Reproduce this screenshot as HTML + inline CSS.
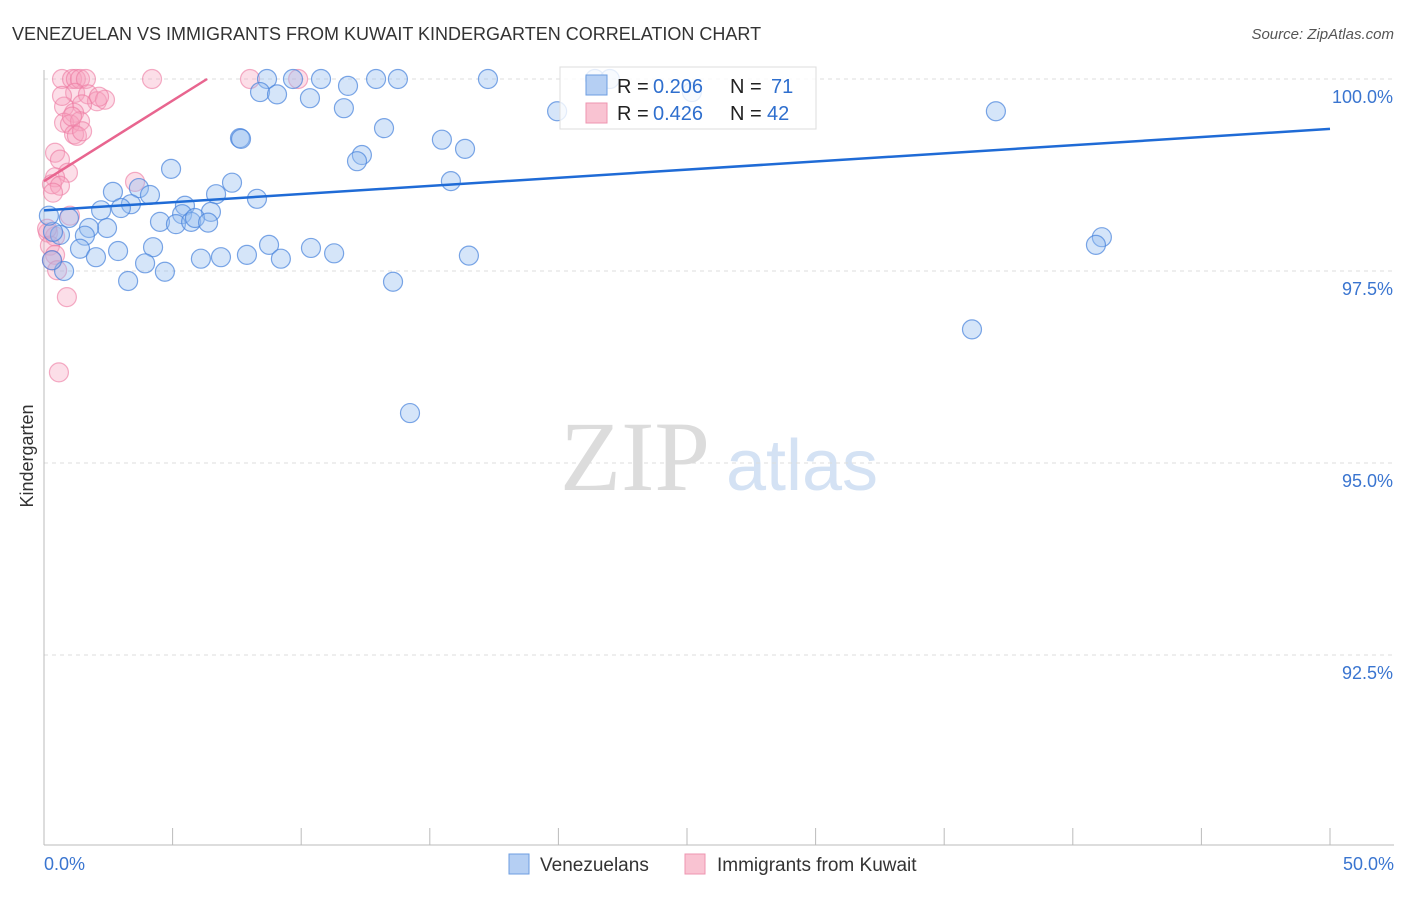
<!DOCTYPE html>
<html><head><meta charset="utf-8"><style>
body{margin:0;background:#fff;font-family:"Liberation Sans",sans-serif;}
</style></head><body>
<svg id="chart" width="1406" height="892" xmlns="http://www.w3.org/2000/svg" font-family="Liberation Sans, sans-serif">
<text x="12" y="40" font-size="18" fill="#333">VENEZUELAN VS IMMIGRANTS FROM KUWAIT KINDERGARTEN CORRELATION CHART</text>
<text x="1394" y="39" font-size="15" fill="#555" text-anchor="end" font-style="italic">Source: ZipAtlas.com</text>
<g>
<text x="635" y="490" font-size="100" fill="#dcdcdc" text-anchor="middle" style="font-family:'Liberation Serif',serif">ZIP</text>
<text x="802" y="490" font-size="72" fill="#d4e2f4" text-anchor="middle">atlas</text>
</g>
<g id="grid"></g><g id="axes"></g><g id="points"></g><g id="trends"></g>
<text transform="translate(33,456) rotate(-90)" font-size="18" fill="#333" text-anchor="middle">Kindergarten</text>
<g>
<rect x="560" y="67" width="256" height="62" fill="rgba(255,255,255,0.8)" stroke="#ddd"/>
<rect x="586" y="75" width="21" height="20" fill="#b5cff3" stroke="#6d9ee0"/>
<rect x="586" y="103" width="21" height="20" fill="#f9c3d2" stroke="#ee95b0"/>
<text x="617" y="93" font-size="20" fill="#222">R =</text>
<text x="653" y="93" font-size="20" fill="#2f6fce">0.206</text>
<text x="730" y="93" font-size="20" fill="#222">N =</text>
<text x="771" y="93" font-size="20" fill="#2f6fce">71</text>
<text x="617" y="120" font-size="20" fill="#222">R =</text>
<text x="653" y="120" font-size="20" fill="#2f6fce">0.426</text>
<text x="730" y="120" font-size="20" fill="#222">N =</text>
<text x="767" y="120" font-size="20" fill="#2f6fce">42</text>
</g>
<g>
<rect x="509" y="854" width="20" height="20" fill="#b5cff3" stroke="#6d9ee0"/>
<text x="540" y="871" font-size="19" fill="#333">Venezuelans</text>
<rect x="685" y="854" width="20" height="20" fill="#f9c3d2" stroke="#ee95b0"/>
<text x="717" y="871" font-size="19" fill="#333">Immigrants from Kuwait</text>
</g>
</svg>
<script>
const blueX=[8.67,9.68,10.77,12.91,13.76,17.26,21.42,22.0,25.19,8.40,9.06,10.34,11.82,11.66,19.95,37.01,13.22,15.47,16.37,7.62,7.66,4.94,12.36,12.17,15.82,7.31,2.68,3.69,4.12,6.69,8.28,2.22,3.38,2.99,5.48,5.37,6.49,0.97,4.51,5.13,5.72,5.87,6.38,2.45,1.75,0.62,1.59,0.35,41.13,40.90,1.40,2.88,4.24,8.75,10.38,11.28,2.02,6.88,7.89,6.10,9.21,16.52,3.93,4.70,0.78,0.31,3.27,13.57,36.08,14.23,0.19];
const blueY=[100,100,100,100,100,100,100,100,99.83,99.83,99.80,99.75,99.91,99.62,99.58,99.58,99.36,99.21,99.09,99.23,99.22,98.83,99.01,98.93,98.67,98.65,98.53,98.58,98.49,98.50,98.44,98.29,98.37,98.32,98.35,98.24,98.27,98.19,98.14,98.11,98.14,98.19,98.13,98.06,98.06,97.97,97.96,98.01,97.94,97.84,97.79,97.76,97.81,97.84,97.80,97.73,97.68,97.68,97.71,97.66,97.66,97.70,97.60,97.49,97.50,97.64,97.37,97.36,96.74,95.65,98.22];
const pinkX=[0.70,1.09,1.24,1.40,1.63,4.20,8.01,9.88,1.21,1.71,2.06,1.48,0.78,1.17,0.78,1.01,1.40,1.17,1.28,0.43,0.62,0.93,0.43,0.31,0.62,0.35,3.54,1.01,0.16,0.43,0.23,0.43,0.31,0.51,0.89,0.58,2.37,2.14,0.12,1.48,1.09,0.70];
const pinkY=[100,100,100,100,100,100,100,100,99.82,99.80,99.71,99.67,99.64,99.56,99.43,99.41,99.45,99.28,99.26,99.04,98.95,98.78,98.72,98.63,98.61,98.52,98.66,98.22,98.00,97.95,97.83,97.71,97.64,97.51,97.16,96.18,99.73,99.77,98.05,99.32,99.51,99.78];
const blueTrend=[98.29,99.35];
const pinkTrend=[98.67,100];const pinkTrendEnd=6.34;
const yTicks=[100,97.5,95,92.5];
const yTickLabels=["100.0%","97.5%","95.0%","92.5%"];
const xTicks=[0,5,10,15,20,25,30,35,40,45,50];
const X=v=>44+v/50*1286, Y=v=>79+(100-v)*76.8;
const NS="http://www.w3.org/2000/svg";
function mk(t,a,p){const e=document.createElementNS(NS,t);for(const k in a)e.setAttribute(k,a[k]);p.appendChild(e);return e;}
const grid=document.getElementById('grid'),axes=document.getElementById('axes'),pts=document.getElementById('points'),tr=document.getElementById('trends');
yTicks.forEach((v,i)=>{
 const l=mk('line',{x1:44,x2:1394,y1:Y(v),y2:Y(v),stroke:'#ddd','stroke-dasharray':'4,4'},grid);
 
 
 const t=mk('text',{x:1393,y:Y(v)+24,'font-size':18,fill:'#3a75d0','text-anchor':'end'},axes);
 t.textContent=yTickLabels[i];
 
 
});
const ax=mk('line',{x1:44,x2:1394,y1:845,y2:845,stroke:'#bbb'},axes);


const ay=mk('line',{x1:44,x2:44,y1:70,y2:845,stroke:'#bbb'},axes);


xTicks.forEach(v=>{
 const l=mk('line',{x1:X(v),x2:X(v),y1:828,y2:845,stroke:'#bbb'},axes);
 
 
});
const xl=mk('text',{x:44,y:870,'font-size':18,fill:'#3a75d0'},axes);xl.textContent='0.0%';


const xr=mk('text',{x:1394,y:870,'font-size':18,fill:'#3a75d0','text-anchor':'end'},axes);xr.textContent='50.0%';


pinkX.forEach((x,i)=>{
 const c=mk('circle',{cx:X(x),cy:Y(pinkY[i]),r:9.5,fill:'rgba(246,160,188,0.35)',stroke:'rgba(236,120,160,0.6)','stroke-width':1.2},pts);
 
 
});
blueX.forEach((x,i)=>{
 const c=mk('circle',{cx:X(x),cy:Y(blueY[i]),r:9.5,fill:'rgba(150,190,240,0.4)',stroke:'rgba(70,130,220,0.7)','stroke-width':1.2},pts);
 
 
});
const bt=mk('line',{x1:X(0),y1:Y(blueTrend[0]),x2:X(50),y2:Y(blueTrend[1]),stroke:'#1f6bd6','stroke-width':2.5},tr);


const pt=mk('line',{x1:X(0),y1:Y(pinkTrend[0]),x2:X(pinkTrendEnd),y2:Y(pinkTrend[1]),stroke:'#e8658f','stroke-width':2.5},tr);


</script>
</body></html>
